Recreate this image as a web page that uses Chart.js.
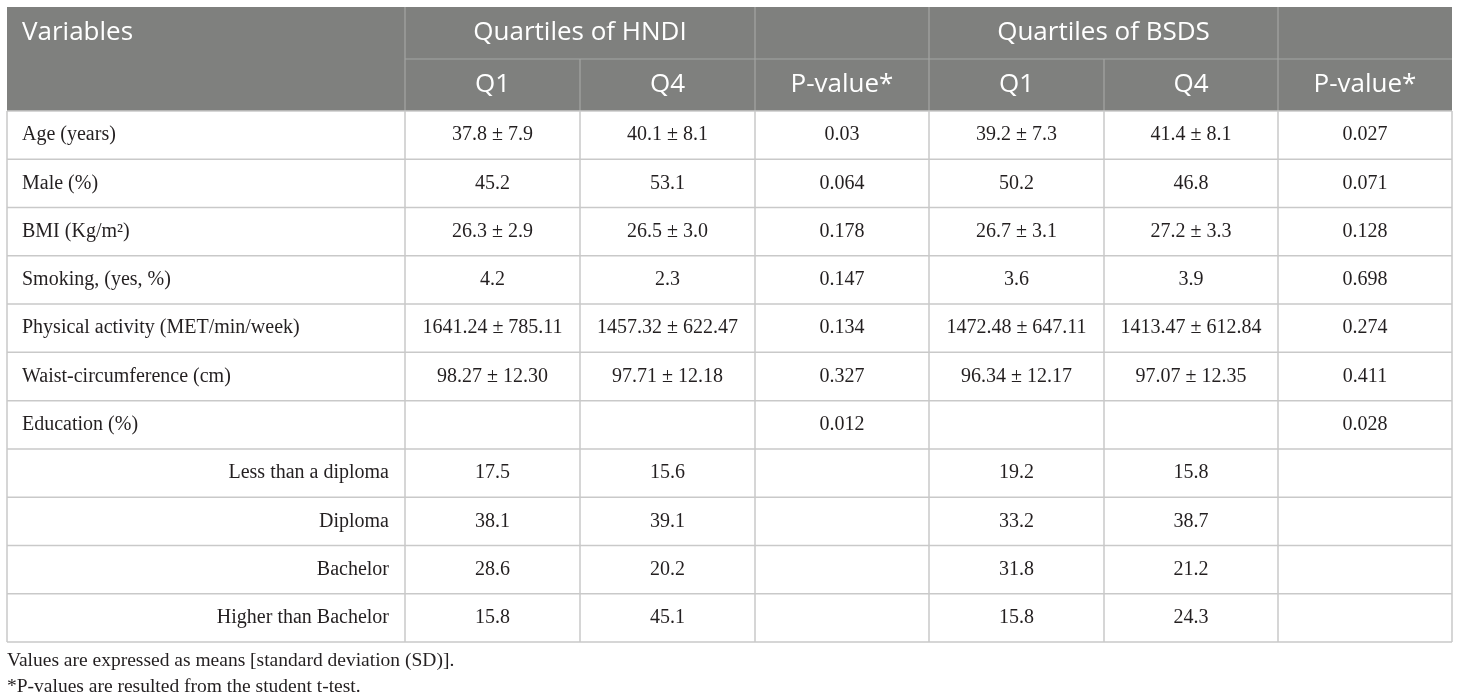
<!DOCTYPE html>
<html>
<head>
<meta charset="utf-8">
<title>Quartiles of HNDI and BSDS</title>
<script src="https://cdn.jsdelivr.net/npm/chart.js@4.4.1/dist/chart.umd.min.js"></script>
<style>
  html, body { margin: 0; background: #fff; }
  #wrap { width: 1460px; height: 700px; }
</style>
</head>
<body>
<div id="wrap"><canvas id="table"></canvas></div>
<script>
// table contents
const variables = ['Age (years)', 'Male (%)', 'BMI (Kg/m\u00B2)', 'Smoking, (yes, %)',
  'Physical activity (MET/min/week)', 'Waist-circumference (cm)', 'Education (%)',
  'Less than a diploma', 'Diploma', 'Bachelor', 'Higher than Bachelor'];
const subLevel = [false, false, false, false, false, false, false, true, true, true, true];
const groupHeads = ['Quartiles of HNDI', 'Quartiles of BSDS'];
const subHeads = ['Q1', 'Q4', 'P-value*'];

const hndiQ1 = ['37.8 \u00B1 7.9', '45.2', '26.3 \u00B1 2.9', '4.2', '1641.24 \u00B1 785.11', '98.27 \u00B1 12.30', '', '17.5', '38.1', '28.6', '15.8'];
const hndiQ4 = ['40.1 \u00B1 8.1', '53.1', '26.5 \u00B1 3.0', '2.3', '1457.32 \u00B1 622.47', '97.71 \u00B1 12.18', '', '15.6', '39.1', '20.2', '45.1'];
const hndiP = ['0.03', '0.064', '0.178', '0.147', '0.134', '0.327', '0.012', '', '', '', ''];
const bsdsQ1 = ['39.2 \u00B1 7.3', '50.2', '26.7 \u00B1 3.1', '3.6', '1472.48 \u00B1 647.11', '96.34 \u00B1 12.17', '', '19.2', '33.2', '31.8', '15.8'];
const bsdsQ4 = ['41.4 \u00B1 8.1', '46.8', '27.2 \u00B1 3.3', '3.9', '1413.47 \u00B1 612.84', '97.07 \u00B1 12.35', '', '15.8', '38.7', '21.2', '24.3'];
const bsdsP = ['0.027', '0.071', '0.128', '0.698', '0.274', '0.411', '0.028', '', '', '', ''];

const footnotes = ['Values are expressed as means [standard deviation (SD)].',
  '*P-values are resulted from the student t-test.'];

// layout, in table units (1 unit = 1px)
const colEdges = [0, 398, 573, 748, 922, 1097, 1271, 1445];
const headH = 52;
const rowH = 531 / 11;
const tableW = colEdges[colEdges.length - 1];
const tableH = 2 * headH + variables.length * rowH;
const headFont = '26px "Open Sans"';
const bodyFont = '20px "Liberation Serif"';

function rowTop(r) { return 2 * headH + r * rowH; }
function colMid(c) { return (colEdges[c] + colEdges[c + 1]) / 2; }

// one point per text cell, placed through the scales
const cells = [];
cells.push({x: 15, y: headH / 2, text: 'Variables', align: 'left', head: true});
groupHeads.forEach((g, k) => {
  const a = colEdges[1 + 3 * k], b = colEdges[3 + 3 * k];
  cells.push({x: (a + b) / 2, y: headH / 2, text: g, align: 'center', head: true});
});
for (let c = 1; c < 7; c++) {
  cells.push({x: colMid(c), y: headH * 1.5, text: subHeads[(c - 1) % 3], align: 'center', head: true});
}
const columns = [hndiQ1, hndiQ4, hndiP, bsdsQ1, bsdsQ4, bsdsP];
variables.forEach((v, r) => {
  const y = rowTop(r) + rowH / 2;
  if (subLevel[r]) {
    cells.push({x: colEdges[1] - 16, y: y, text: v, align: 'right'});
  } else {
    cells.push({x: 15, y: y, text: v, align: 'left'});
  }
  columns.forEach((col, c) => {
    if (col[r]) cells.push({x: colMid(c + 1), y: y, text: col[r], align: 'center'});
  });
});

const tablePlugin = {
  id: 'tableCells',
  beforeDatasetsDraw(chart) {
    const {ctx, scales: {x, y}} = chart;
    const px = v => x.getPixelForValue(v);
    const py = v => y.getPixelForValue(v);
    const line = (x0, y0, x1, y1) => {
      ctx.beginPath(); ctx.moveTo(px(x0), py(y0)); ctx.lineTo(px(x1), py(y1)); ctx.stroke();
    };
    ctx.save();
    // header band
    ctx.fillStyle = '#7f807e';
    ctx.fillRect(px(0), py(0), px(tableW) - px(0), py(2 * headH) - py(0));
    ctx.strokeStyle = '#a4a5a3';
    ctx.lineWidth = 1.2;
    line(colEdges[1], headH, tableW, headH);
    [1, 3, 4, 6].forEach(i => line(colEdges[i], 0, colEdges[i], headH));
    colEdges.slice(1, -1).forEach(e => line(e, headH, e, 2 * headH));
    // body grid
    ctx.strokeStyle = '#c9c9c9';
    ctx.lineWidth = 1.5;
    for (let r = 0; r <= variables.length; r++) line(0, rowTop(r), tableW, rowTop(r));
    colEdges.forEach(e => line(e, rowTop(0), e, tableH));
    ctx.restore();
  },
  afterDatasetsDraw(chart) {
    const ctx = chart.ctx;
    const meta = chart.getDatasetMeta(0);
    ctx.save();
    ctx.textBaseline = 'middle';
    meta.data.forEach((pt, i) => {
      const cell = cells[i];
      ctx.font = cell.head ? headFont : bodyFont;
      ctx.fillStyle = cell.head ? '#ffffff' : '#231f20';
      ctx.textAlign = cell.align;
      ctx.fillText(cell.text, pt.x, pt.y);
    });
    ctx.restore();
  }
};

new Chart(document.getElementById('table'), {
  type: 'scatter',
  data: {
    datasets: [{
      label: 'cells',
      data: cells,
      pointRadius: 0,
      pointHoverRadius: 0
    }]
  },
  options: {
    responsive: true,
    maintainAspectRatio: false,
    animation: false,
    events: [],
    layout: { padding: { left: 7, right: 8, top: 7, bottom: 0 } },
    scales: {
      x: { type: 'linear', min: 0, max: tableW, display: false },
      y: { type: 'linear', min: 0, max: tableH, reverse: true, display: false }
    },
    plugins: {
      legend: { display: false },
      tooltip: { enabled: false },
      title: {
        display: true,
        position: 'bottom',
        align: 'start',
        text: footnotes,
        color: '#231f20',
        font: { family: '"Liberation Serif"', size: 19.5, weight: 'normal', lineHeight: 26 / 19.5 },
        padding: { top: 6, bottom: 0 }
      }
    }
  },
  plugins: [tablePlugin]
});
</script>
</body>
</html>
